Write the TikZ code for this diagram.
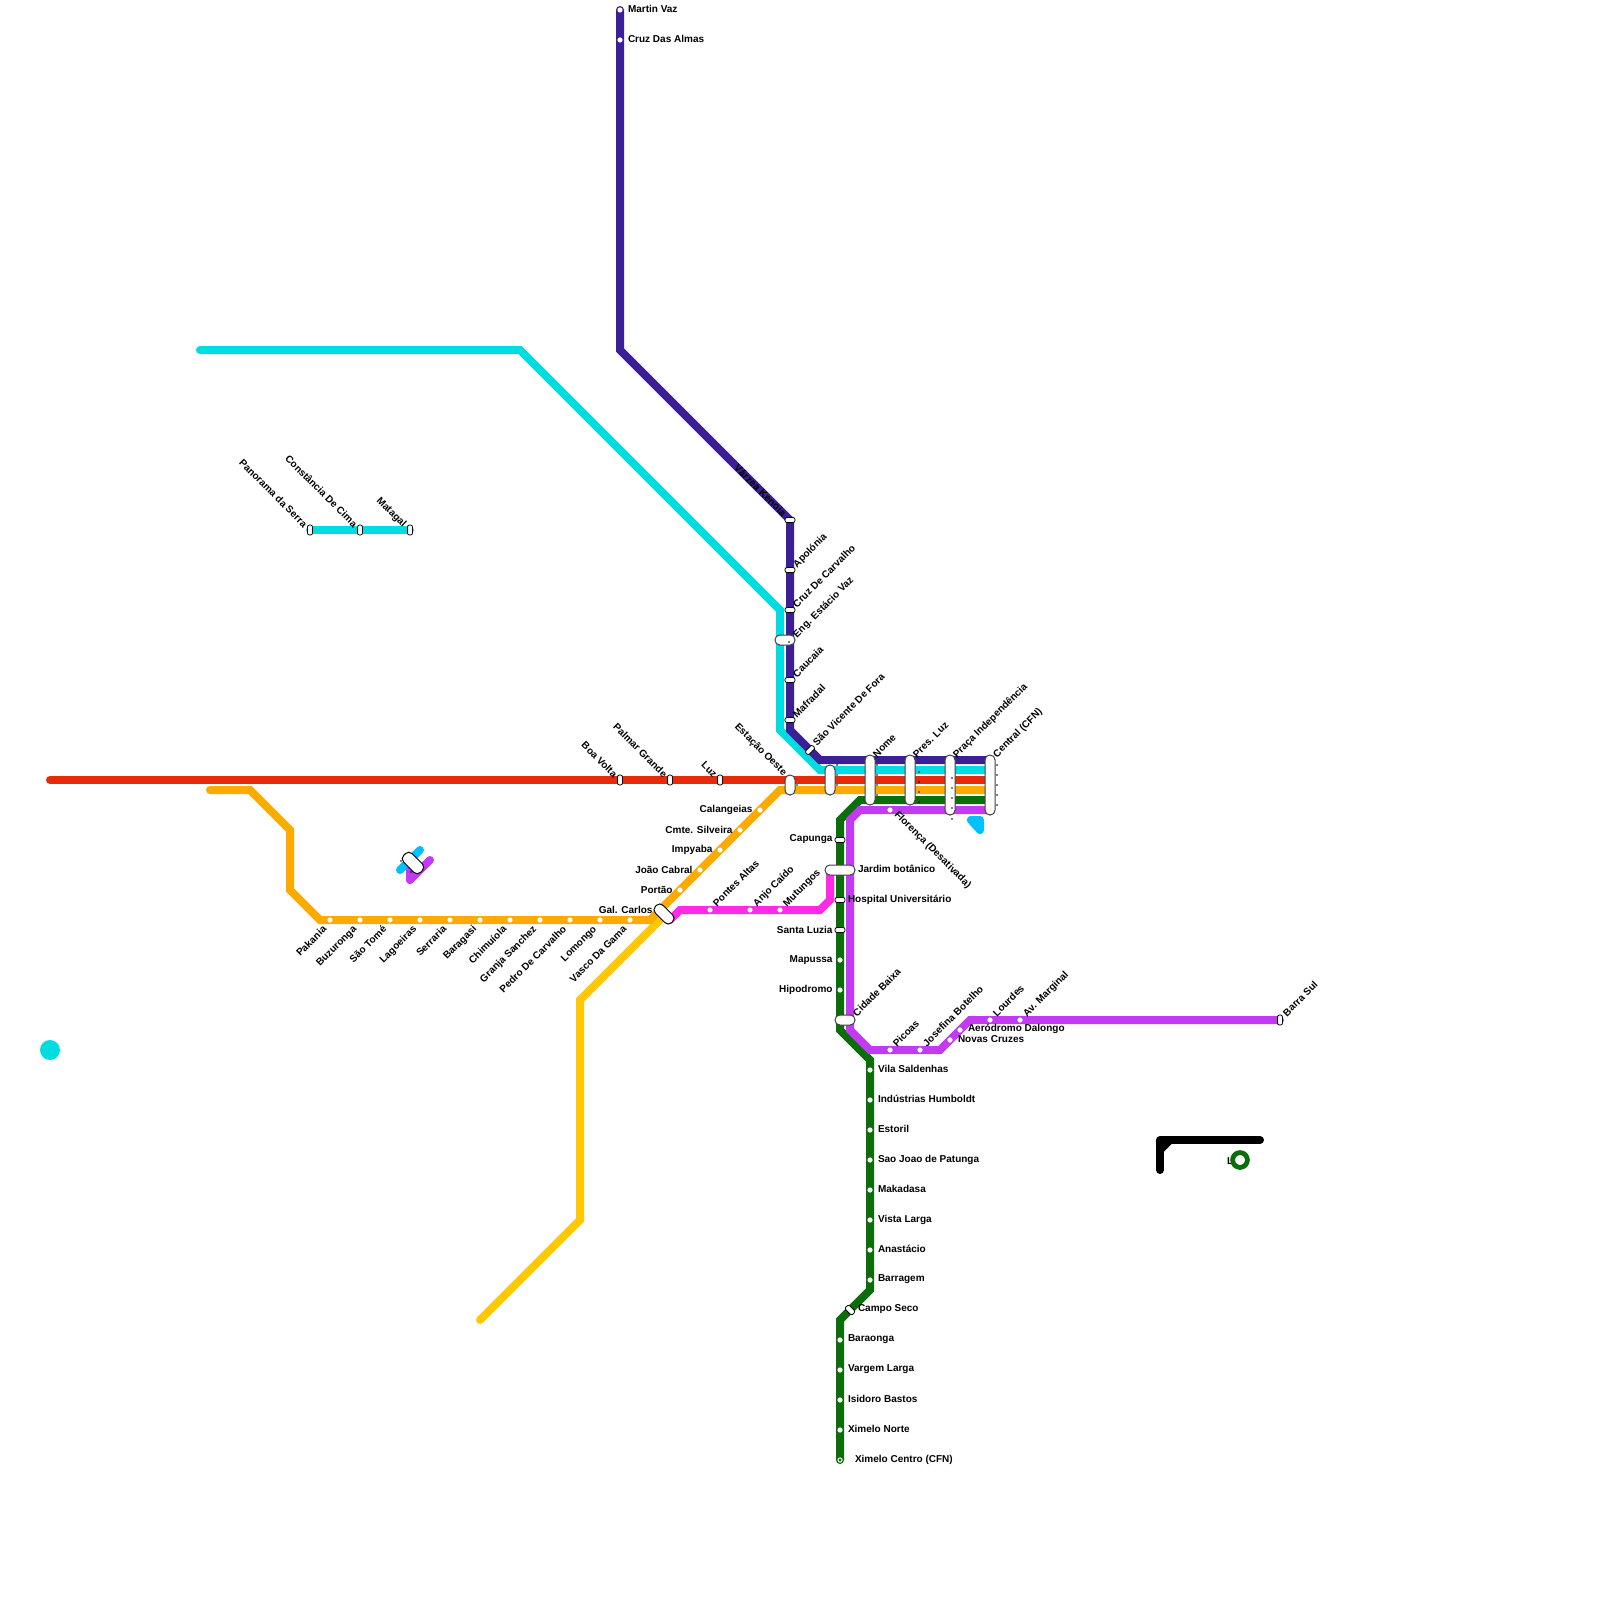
\documentclass[tikz,border=0pt]{standalone}
\usepackage{fontspec}
\setmainfont{Liberation Sans}
\definecolor{cDark}{HTML}{3C1E96}
\definecolor{cCyan}{HTML}{00DCE1}
\definecolor{cRed}{HTML}{E62A0A}
\definecolor{cOrange}{HTML}{FFAA00}
\definecolor{cYellow}{HTML}{FFC800}
\definecolor{cGreen}{HTML}{0B6E0B}
\definecolor{cPurple}{HTML}{C23AF2}
\definecolor{cMagenta}{HTML}{FF2AE6}
\definecolor{cSky}{HTML}{00C0FF}
\tikzset{
  metro/.style={line width=4pt,line cap=round,line join=miter,miter limit=10},
  dotst/.style={circle,fill=white,inner sep=0pt,minimum size=2.6pt},
  stbox/.style={draw=black,line width=0.4pt,fill=white,rounded corners=1pt,inner sep=0pt},
  hbox/.style={stbox,minimum width=5pt,minimum height=2.5pt},
  vbox/.style={stbox,minimum width=2.5pt,minimum height=5pt},
  bigbox/.style={draw=black!75,line width=0.5pt,fill=white,rounded corners=2.4pt,inner sep=0pt},
  tiny/.style={circle,fill=black,inner sep=0pt,minimum size=0.9pt},
  lab/.style={inner sep=0pt,outer sep=0pt,font=\fontsize{5}{6}\selectfont\bfseries,text=black},
  labR/.style={lab,anchor=west},
  labL/.style={lab,anchor=east},
  labUp/.style={lab,anchor=base west,rotate=45},
  labDown/.style={lab,anchor=base east,rotate=45},
  labNW/.style={lab,anchor=base east,rotate=-45},
  labSE/.style={lab,anchor=base west,rotate=-45}
}
\begin{document}
\begin{tikzpicture}[x=0.5pt,y=-0.5pt]
\useasboundingbox (0,0) rectangle (1600,1600);
\fill[white] (0,0) rectangle (1600,1600);
% lines
\draw[metro,cYellow] (480,1320)--(580,1220)--(580,1000)--(660,920);
\draw[metro,cOrange] (210,790)--(250,790)--(290,830)--(290,890)--(320,920)--(650,920)--(780,790)--(990,790);
\draw[metro,cRed] (50,780)--(990,780);
\draw[metro,cCyan] (200,350)--(520,350)--(780,610)--(780,730)--(820,770)--(990,770);
\draw[metro,cDark] (620,10)--(620,350)--(790,520)--(790,730)--(820,760)--(990,760);
\draw[metro,cGreen] (990,800)--(860,800)--(840,820)--(840,1030)--(870,1060)--(870,1290)--(840,1320)--(840,1460);
\draw[metro,cPurple] (990,810)--(860,810)--(850,820)--(850,1030)--(870,1050)--(940,1050)--(970,1020)--(1280,1020);
\draw[metro,cMagenta] (670,920)--(680,910)--(820,910)--(830,900)--(830,870);
\draw[metro,cCyan] (310,530)--(410,530);
\draw[metro,cSky] (400,870)--(420,850);
\draw[metro,cPurple,line join=round] (410,870)--(410,880)--(430,860);
\draw[metro,cSky,line join=round] (971,820)--(980,820)--(980,830)--cycle;
\fill[cSky] (971,820)--(980,820)--(980,830)--cycle;
\draw[metro,black,line join=round] (1160,1170)--(1160,1140)--(1260,1140);
\draw[metro,black] (1160,1150)--(1170,1140);
\node[circle,fill=cCyan,inner sep=0pt,minimum size=10pt] (disk) at (50,1050) {};
\node[lab,anchor=base west] (lone) at (1227,1164) {L};
\node[circle,draw=cGreen,line width=2.4pt,fill=white,inner sep=0pt,minimum size=7.4pt] (ring) at (1240,1160) {};
% white dots
\foreach \n/\x/\y in {a1/330/920,a2/360/920,a3/390/920,a4/420/920,a5/450/920,a6/480/920,a7/510/920,a8/540/920,a9/570/920,a10/600/920,a11/630/920,
 b1/680/890,b2/700/870,b3/720/850,b4/740/830,b5/760/810,
 m1/710/910,m2/750/910,m3/780/910,
 g1/840/960,g2/840/990,g3/870/1070,g4/870/1100,g5/870/1130,g6/870/1160,g7/870/1190,g8/870/1220,g9/870/1250,g10/870/1280,
 g11/840/1340,g12/840/1370,g13/840/1400,g14/840/1430,g15/840/1460,
 p1/890/810,p2/890/1050,p3/920/1050,p4/950/1040,p5/960/1030,p6/990/1020,p7/1020/1020,
 d1/620/10,d2/620/40}
 \node[dotst] (\n) at (\x,\y) {};
\node[circle,fill=cGreen,inner sep=0pt,minimum size=1.6pt] (g15i) at (840,1460) {};
% small boxes
\foreach \n/\x/\y in {h1/790/520,h2/790/570,h3/790/610,h4/790/680,h5/790/720,h6/840/840,h7/840/900,h8/840/930}
 \node[hbox] (\n) at (\x,\y) {};
\foreach \n/\x/\y in {v1/310/530,v2/360/530,v3/410/530,v4/620/780,v5/670/780,v6/720/780,v7/1280/1020}
 \node[vbox] (\n) at (\x,\y) {};
\node[hbox,rotate=45] (sv) at (810,750) {};
\node[hbox,rotate=-45,minimum height=2.8pt] (cs) at (850,1310) {};
% big boxes
\node[bigbox,minimum width=5pt,minimum height=10pt] (eo) at (790,785) {};
\node[bigbox,minimum width=5pt,minimum height=15pt] (n0) at (830,780) {};
\node[bigbox,minimum width=5pt,minimum height=25pt] (nome) at (870,780) {};
\node[bigbox,minimum width=5pt,minimum height=25pt] (pl) at (910,780) {};
\node[bigbox,minimum width=5pt,minimum height=30pt] (pi) at (950,785) {};
\node[bigbox,minimum width=5pt,minimum height=30pt] (ce) at (990,785) {};
\node[bigbox,minimum width=10pt,minimum height=5pt] (ev) at (785,640) {};
\node[bigbox,minimum width=15pt,minimum height=5pt] (jb) at (840,870) {};
\node[bigbox,minimum width=10pt,minimum height=5pt] (cb) at (845,1020) {};
\node[bigbox,minimum width=11.5pt,minimum height=5.5pt,rotate=-45,draw=black] (gc) at (664,914) {};
\node[bigbox,minimum width=12pt,minimum height=6pt,rotate=-45,draw=black] (iso) at (413,863) {};
% tiny black dots
\foreach \n/\x/\y in {t1/837/765,t2/837/775,t3/837/785,t4/877/765,t5/877/775,t6/877/785,t7/877/795,t8/919/772,t9/919/782,t10/919/792,t11/919/802,t12/952/778,t13/952/788,t14/952/798,t15/952/808,t16/952/819,t17/997/765,t18/997/775,t19/997/785,t20/997/795,t21/997/805,t22/797/785,t23/789/642,t24/401/861,t25/411/872}
 \node[tiny] (\n) at (\x,\y) {};
% labels right
\foreach \n/\x/\y/\t in {lr1/628/9/Martin Vaz,lr2/628/39/Cruz Das Almas,lr3/858/869/Jardim botânico,lr4/848/899.5/Hospital Universitário,
 lr5/878/1069/Vila Saldenhas,lr6/878/1099/Indústrias Humboldt,lr7/878/1129/Estoril,lr8/878/1159.5/Sao Joao de Patunga,lr9/878/1189/Makadasa,lr10/878/1219.5/Vista Larga,lr11/878/1249/Anastácio,lr12/878/1279.5/Barragem,lr13/858/1309.5/Campo Seco,
 lr14/848/1339.5/Baraonga,lr15/848/1369.5/Vargem Larga,lr16/848/1399/Isidoro Bastos,lr17/848/1429/Ximelo Norte,lr18/855/1459.5/Ximelo Centro (CFN),
 lr19/958/1039/Novas Cruzes,lr20/968/1029/Aeródromo Dalongo}
 \node[labR] (\n) at (\x,\y) {\t};
% labels left
\foreach \n/\x/\y/\t in {ll1/752.5/810/Calangeias,ll2/732.5/829.5/Cmte. Silveira,ll3/712.5/850/Impyaba,ll4/692.5/869.5/João Cabral,ll5/672.5/889.5/Portão,ll6/652.5/909.5/Gal. Carlos,
 ll7/832.5/839.5/Capunga,ll8/832.5/929.5/Santa Luzia,ll9/832.5/960/Mapussa,ll10/832.5/989.5/Hipodromo}
 \node[labL] (\n) at (\x,\y) {\t};
% labels rotated up-right from the station
\foreach \n/\x/\y/\t in {u1/797/568/Apolónia,u2/797/608/Cruz De Carvalho,u3/797/638/Eng. Estácio Vaz,u4/797/678/Caucaia,u5/797/718/Mafradal,u6/817/746/São Vicente De Fora,
 u7/877/758/Nome,u8/917/758/Pres. Luz,u9/957/758/Praça Independência,u10/997/758/Central (CFN),
 u11/717/907/Pontes Altas,u12/757/907/Anjo Caído,u13/787/907/Mutungos,
 u14/857/1017/Cidade Baixa,u15/897/1047/Picoas,u16/927/1047/Josefina Botelho,u17/997/1017/Lourdes,u18/1027/1017/Av. Marginal,u19/1287/1017/Barra Sul}
 \node[labUp] (\n) at (\x,\y) {\t};
% labels rotated, ending at the station
\foreach \n/\x/\y/\t in {w1/327/930/Pakania,w2/357/930/Buzuronga,w3/387/930/São Tomé,w4/417/930/Lagoeiras,w5/447/930/Serraria,w6/477/930/Baragasi,w7/507/930/Chimuíola,w8/537/930/Granja Sanchez,w9/567/930/Pedro De Carvalho,w10/597/930/Lomongo,w11/627/930/Vasco Da Gama}
 \node[labDown] (\n) at (\x,\y) {\t};
% labels rotated, ending above-left
\foreach \n/\x/\y/\t in {x1/303/528/Panorama da Serra,x2/353/528/Constância De Cima,x3/402.5/527.5/Matagal,x4/613/778/Boa Volta,x5/663/778/Palmar Grande,x6/713/778/Luz,x7/783/776/Estação Oeste,x8/782/517/Várzea Kenoia}
 \node[labNW] (\n) at (\x,\y) {\t};
\node[labSE] (fl) at (894,815) {Florença (Desativada)};
\end{tikzpicture}
\end{document}
